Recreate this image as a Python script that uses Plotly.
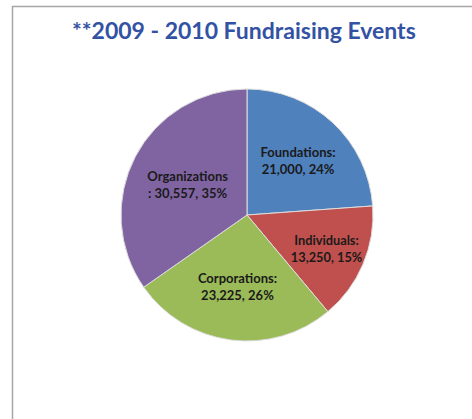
import plotly.graph_objects as go

categories = ["Foundations", "Individuals", "Corporations", "Organizations"]
values = [21000, 13250, 23225, 30557]
colors = ["#4F81BD", "#C0504D", "#9BBB59", "#8064A2"]
templates = [
    "%{label}:<br>%{value:,}, %{percent:.0%}",
    "%{label}:<br>%{value:,}, %{percent:.0%}",
    "%{label}:<br>%{value:,}, %{percent:.0%}",
    "%{label}<br>: %{value:,}, %{percent:.0%}",
]

W, H = 472, 419
fig = go.Figure(go.Pie(
    labels=categories, values=values, sort=False, direction="clockwise",
    marker=dict(colors=colors, line=dict(color="#DDDDDD", width=1)),
    texttemplate=templates, textposition="inside", insidetextorientation="horizontal",
    textfont=dict(family="Lato", size=13, color="#1a1a1a", weight="bold"),
    domain=dict(x=[121/W, 373/W], y=[1-341/H, 1-89/H]),
    showlegend=False, hoverinfo="label+value+percent",
))
fig.add_shape(type="rect", xref="paper", yref="paper",
              x0=12.5/W, x1=1.05, y0=-0.05, y1=1-6.5/H,
              line=dict(color="#A6A6A6", width=1.5), fillcolor="rgba(0,0,0,0)")
fig.add_annotation(text="<b>**2009 - 2010 Fundraising Events</b>", xref="paper", yref="paper",
                   x=244/W, y=1-30/H, showarrow=False, xanchor="center", yanchor="middle",
                   font=dict(family="Lato", size=23, color="#3352A4"))
fig.update_layout(width=W, height=H, margin=dict(l=0, r=0, t=0, b=0),
                  paper_bgcolor="white", plot_bgcolor="white")
fig.write_html("out.html", config={"displayModeBar": False},
               post_script="document.body.style.margin='0';document.body.style.overflow='hidden';")
